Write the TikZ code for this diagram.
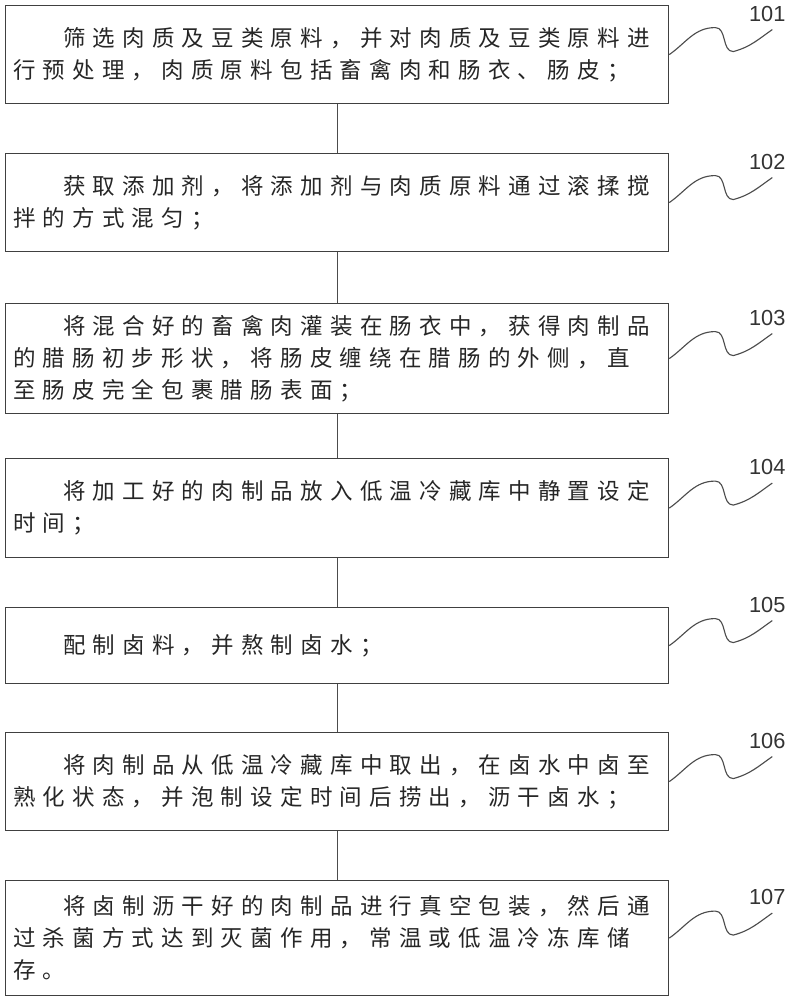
\documentclass[tikz,border=0pt]{standalone}
\usepackage{fontspec}
\newfontfamily\cjk[LetterSpace=32]{Noto Sans CJK SC}
\newfontfamily\numfont{Liberation Sans}

\tikzset{
  proc/.style={draw=black!75, line width=0.8pt, anchor=north west,
    minimum width=16.575cm, inner xsep=0.17cm, text width=16.2cm, align=left,
    font=\cjk\fontsize{16}{22.8}\selectfont, text=black!85},
  num/.style={inner sep=0pt, font=\numfont\fontsize{15.5}{18}\selectfont, text=black!80},
  lead/.style={draw=black!70, line width=0.8pt},
  link/.style={draw=black!70, line width=0.8pt}
}

\begin{document}
\begin{tikzpicture}[x=0.025cm, y=0.025cm]
\useasboundingbox (0,0) rectangle (794,-1000);

% Steps
\node[proc, minimum height=2.45cm] (s1) at (5,-5)
  {\hspace*{1.25cm}筛选肉质及豆类原料，并对肉质及豆类原料进\\行预处理，肉质原料包括畜禽肉和肠衣、肠皮；};
\node[proc, minimum height=2.45cm] (s2) at (5,-153)
  {\hspace*{1.25cm}获取添加剂，将添加剂与肉质原料通过滚揉搅\\拌的方式混匀；};
\node[proc, minimum height=2.75cm] (s3) at (5,-303)
  {\hspace*{1.25cm}将混合好的畜禽肉灌装在肠衣中，获得肉制品\\的腊肠初步形状，将肠皮缠绕在腊肠的外侧，直\\至肠皮完全包裹腊肠表面；};
\node[proc, minimum height=2.475cm] (s4) at (5,-458)
  {\hspace*{1.25cm}将加工好的肉制品放入低温冷藏库中静置设定\\时间；};
\node[proc, minimum height=1.9cm] (s5) at (5,-607)
  {\hspace*{1.25cm}配制卤料，并熬制卤水；};
\node[proc, minimum height=2.45cm] (s6) at (5,-732)
  {\hspace*{1.25cm}将肉制品从低温冷藏库中取出，在卤水中卤至\\熟化状态，并泡制设定时间后捞出，沥干卤水；};
\node[proc, minimum height=2.875cm] (s7) at (5,-880)
  {\hspace*{1.25cm}将卤制沥干好的肉制品进行真空包装，然后通\\过杀菌方式达到灭菌作用，常温或低温冷冻库储\\存。};

% Links between steps
\foreach \a/\b in {1/2,2/3,3/4,4/5,5/6,6/7}
  \draw[link] (s\a) -- (s\b);

% Reference numbers with wavy leaders
\foreach \i in {1,...,7} {
  \node[num] (n\i) at ([shift={(98,41)}]s\i.east) {10\i};
  \draw[lead] (s\i.east) to[out=35,in=180] ++(46,27)
    to[out=0,in=180] ++(18,-24)
    to[out=15,in=215] ([shift={(5,-8)}]n\i.south);
}
\end{tikzpicture}
\end{document}
